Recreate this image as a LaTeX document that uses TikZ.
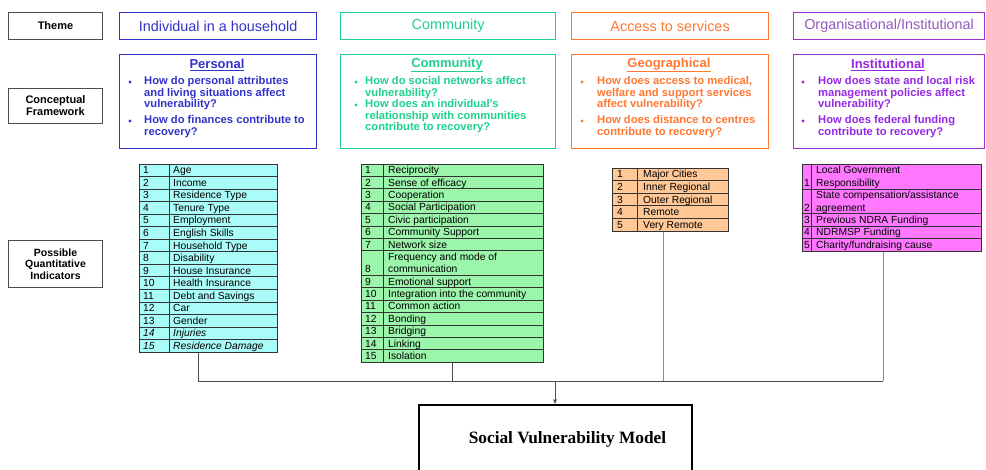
\documentclass[tikz,border=0pt]{standalone}
\usepackage{fontspec}
\setmainfont{Liberation Sans}
\newfontfamily\svmfont{Liberation Serif}
\usetikzlibrary{arrows.meta}
\definecolor{cblue}{RGB}{51,51,204}
\definecolor{cgreen}{RGB}{30,210,140}
\definecolor{corange}{RGB}{255,120,50}
\definecolor{cpurple}{RGB}{153,51,204}
\definecolor{cpurpletxt}{RGB}{150,90,190}
\definecolor{cinst}{RGB}{150,40,230}
\definecolor{fcyan}{RGB}{170,252,248}
\definecolor{fgreen}{RGB}{155,245,170}
\definecolor{forange}{RGB}{255,200,150}
\definecolor{fpink}{RGB}{255,120,255}
\newcommand\cfbul[6]{%
  \fill[#4] ({#6},{#2+1}) circle (1.6pt) coordinate (#5b);
  \node[cftext,text=#4] (#5t) at ({#1},{#2-4.6}) {#3};}
\begin{document}
\begin{tikzpicture}[x=1pt,y=-1pt,
  labelbox/.style={draw=black!70, line width=1pt, align=center, anchor=north west,
    font=\bfseries\fontsize{11}{12}\selectfont, inner sep=0pt},
  themebox/.style={line width=1.2pt, anchor=north west, inner sep=0pt,
    font=\fontsize{14.4}{16}\selectfont},
  cfbox/.style={line width=1.2pt, anchor=north west, inner sep=0pt},
  cfhead/.style={font=\bfseries\fontsize{13}{14}\selectfont, inner sep=0pt},
  cftext/.style={anchor=north west, align=left, inner sep=0pt,
    font=\bfseries\fontsize{11.2}{11.6}\selectfont},
  tab/.style={draw=black!80, line width=0.8pt, inner sep=0pt, anchor=north west},
  rowline/.style={draw=black!80, line width=0.7pt},
  cell/.style={font=\fontsize{10.3}{11}\selectfont, inner sep=0pt, anchor=base west},
  conn/.style={draw=black!70, line width=0.9pt},
  connlight/.style={draw=black!45, line width=1pt},
  svmbox/.style={draw=black, line width=2pt, anchor=north west, inner sep=0pt}
]
\clip (0,0) rectangle (986,470);
\fill[white] (0,0) rectangle (986,470);

% left labels
\node[labelbox, minimum width=94, minimum height=27] (lTheme) at (8,12) {Theme};
\node[labelbox, minimum width=94, minimum height=35] (lCF) at (8,88) {Conceptual\\Framework};
\node[labelbox, minimum width=94, minimum height=47, font=\bfseries\fontsize{10.5}{11.3}\selectfont] (lPQI) at (8,240) {Possible\\Quantitative\\Indicators};

% theme row
\node[themebox, draw=cblue, text=cblue, minimum width=197, minimum height=27] (th1) at (119,12) {Individual in a household};
\node[themebox, draw=cgreen, text=cgreen, minimum width=215, minimum height=27] (th2) at (340,12) {Community};
\node[themebox, draw=corange, text=corange, minimum width=197, minimum height=27] (th3) at (571,12) {Access to services};
\node[themebox, draw=cpurple, text=cpurpletxt, minimum width=191, minimum height=27] (th4) at (793,12) {Organisational/Institutional};

% conceptual framework boxes
\node[cfbox, draw=cblue, minimum width=197, minimum height=94] (cf1) at (119,54) {};
\node[cfbox, draw=cgreen, minimum width=215, minimum height=94] (cf2) at (340,54) {};
\node[cfbox, draw=corange, minimum width=197, minimum height=94] (cf3) at (571,54) {};
\node[cfbox, draw=cpurple, minimum width=191, minimum height=94] (cf4) at (793,54) {};

\node[cfhead, text=cblue] (h1) at (217,65) {\underline{Personal}};
\node[cfhead, text=cgreen] (h2) at (447,65) {\underline{Community}};
\node[cfhead, text=corange] (h3) at (669,65) {\underline{Geographical}};
\node[cfhead, text=cinst] (h4) at (888,65) {\underline{Institutional}};

\cfbul{144}{81}{How do personal attributes\\and living situations affect\\vulnerability?}{cblue}{p1}{130}
\cfbul{144}{120}{How do finances contribute to\\recovery?}{cblue}{p2}{130}
\cfbul{365}{81}{How do social networks affect\\vulnerability?}{cgreen}{c1}{356}
\cfbul{365}{104}{How does an individual’s\\relationship with communities\\contribute to recovery?}{cgreen}{c2}{356}
\cfbul{597}{81}{How does access to medical,\\welfare and support services\\affect vulnerability?}{corange}{g1}{582}
\cfbul{597}{120}{How does distance to centres\\contribute to recovery?}{corange}{g2}{582}
\cfbul{818}{81}{How does state and local risk\\management policies affect\\vulnerability?}{cinst}{i1}{803}
\cfbul{818}{120}{How does federal funding\\contribute to recovery?}{cinst}{i2}{803}

% table 1
\node[tab, fill=fcyan, minimum width=138, minimum height=188] (t1) at (139,164) {};
\draw[rowline] (169,164) -- (169,352);
\foreach \i in {1,...,14} \draw[rowline] (139,{164+\i*12.533}) -- (277,{164+\i*12.533});
\foreach \t [count=\i] in {Age,Income,Residence Type,Tenure Type,Employment,English Skills,Household Type,Disability,House Insurance,Health Insurance,Debt and Savings,Car,Gender}{
  \node[cell] (t1n\i) at (143,{164+(\i-0.5)*12.533+3.6}) {\i};
  \node[cell] (t1c\i) at (173,{164+(\i-0.5)*12.533+3.6}) {\t};
}
\node[cell] (t1n14) at (143,{164+13.5*12.533+3.6}) {\itshape 14};
\node[cell] (t1c14) at (173,{164+13.5*12.533+3.6}) {\itshape Injuries};
\node[cell] (t1n15) at (143,{164+14.5*12.533+3.6}) {\itshape 15};
\node[cell] (t1c15) at (173,{164+14.5*12.533+3.6}) {\itshape Residence Damage};

% table 2
\node[tab, fill=fgreen, minimum width=182, minimum height=198] (t2) at (361,164) {};
\draw[rowline] (383,164) -- (383,362);
\foreach \i in {1,...,7,9,10,...,15} \draw[rowline] (361,{164+\i*12.375}) -- (543,{164+\i*12.375});
\foreach \t [count=\i] in {Reciprocity,Sense of efficacy,Cooperation,Social Participation,Civic participation,Community Support,Network size}{
  \node[cell] (t2n\i) at (365,{164+(\i-0.5)*12.375+3.6}) {\i};
  \node[cell] (t2c\i) at (388,{164+(\i-0.5)*12.375+3.6}) {\t};
}
\node[cell] (t2c8a) at (388,{164+7.5*12.375+3.6}) {Frequency and mode of};
\node[cell] (t2n8) at (365,{164+8.5*12.375+3.6}) {8};
\node[cell] (t2c8) at (388,{164+8.5*12.375+3.6}) {communication};
\foreach \t [count=\j from 9] in {Emotional support,Integration into the community,Common action,Bonding,Bridging,Linking,Isolation}{
  \node[cell] (t2n\j) at (365,{164+(\j+0.5)*12.375+3.6}) {\j};
  \node[cell] (t2c\j) at (388,{164+(\j+0.5)*12.375+3.6}) {\t};
}

% table 3
\node[tab, fill=forange, minimum width=116, minimum height=63] (t3) at (612,168) {};
\draw[rowline] (637,168) -- (637,231);
\foreach \i in {1,...,4} \draw[rowline] (612,{168+\i*12.6}) -- (728,{168+\i*12.6});
\foreach \t [count=\i] in {Major Cities,Inner Regional,Outer Regional,Remote,Very Remote}{
  \node[cell] (t3n\i) at (617,{168+(\i-0.5)*12.6+3.6}) {\i};
  \node[cell] (t3c\i) at (643,{168+(\i-0.5)*12.6+3.6}) {\t};
}

% table 4
\node[tab, fill=fpink, minimum width=179, minimum height=87] (t4) at (802,164) {};
\draw[rowline] (811,164) -- (811,251);
\foreach \i in {2,4,5,6} \draw[rowline] (802,{164+\i*12.43}) -- (981,{164+\i*12.43});
\node[cell] (t4c1a) at (816,{164+0.5*12.43+3.6}) {Local Government};
\node[cell] (t4n1) at (804,{164+1.5*12.43+3.6}) {1};
\node[cell] (t4c1) at (816,{164+1.5*12.43+3.6}) {Responsibility};
\node[cell] (t4c2a) at (816,{164+2.5*12.43+3.6}) {State compensation/assistance};
\node[cell] (t4n2) at (804,{164+3.5*12.43+3.6}) {2};
\node[cell] (t4c2) at (816,{164+3.5*12.43+3.6}) {agreement};
\foreach \t [count=\j from 3] in {Previous NDRA Funding,NDRMSP Funding,Charity/fundraising cause}{
  \node[cell] (t4n\j) at (804,{164+(\j+1.5)*12.43+3.6}) {\j};
  \node[cell] (t4c\j) at (816,{164+(\j+1.5)*12.43+3.6}) {\t};
}

% model box
\node[svmbox, minimum width=273, minimum height=90] (svm) at (418,404) {};
\node[font=\svmfont\bfseries\fontsize{17.3}{19}\selectfont, inner sep=0pt] (svmt) at (567.5,439) {Social Vulnerability Model};

% connectors
\coordinate (busL) at (198,381);
\coordinate (bus3) at (663,381);
\coordinate (busR) at (883,381);
\coordinate (busM) at (555,381);
\draw[conn] (t1.south -| busL) -- (busL);
\draw[conn] (t2.south) -- (t2.south |- busL);
\draw[connlight] (t3.south -| bus3) -- (bus3);
\draw[connlight] (t4.south -| busR) -- (busR);
\draw[conn] (busL) -- (busR);
\draw[conn, -{Stealth[length=5pt,width=4pt]}] (busM) -- (svm.north -| busM);
\end{tikzpicture}
\end{document}
